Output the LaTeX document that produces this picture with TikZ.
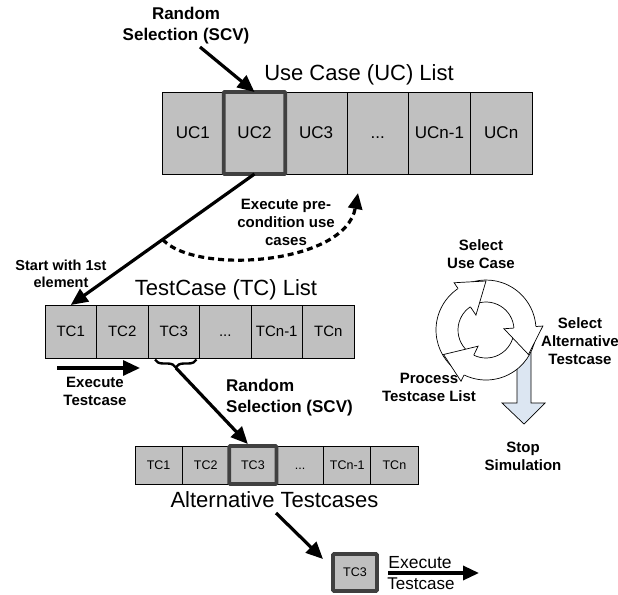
\documentclass[tikz,border=0pt]{standalone}
\usepackage{fontspec}
\setmainfont{Liberation Sans}
\usetikzlibrary{arrows.meta,decorations.pathreplacing,calc}
\definecolor{cellgray}{HTML}{C0C0C0}
\definecolor{selgray}{HTML}{404040}
\definecolor{stopblue}{HTML}{DCE6F2}
\begin{document}
\begin{tikzpicture}[x=1pt,y=-1pt,
  cell/.style={draw=black, line width=0.8pt, fill=cellgray, inner sep=0pt, outer sep=0pt},
  uccell/.style={cell, minimum width=61.67pt, minimum height=82pt, font=\fontsize{17}{20}\selectfont},
  tccell/.style={cell, minimum width=51.5pt, minimum height=53pt, font=\fontsize{15}{18}\selectfont},
  altcell/.style={cell, minimum width=47.17pt, minimum height=38pt, font=\fontsize{12.5}{15}\selectfont},
  selbox/.style={draw=selgray, line width=3.8pt, rounded corners=1pt},
  bigarrow/.style={line width=3.2pt, -{Triangle[length=17pt,width=15pt]}},
  lbl/.style={font=\fontsize{15}{18}\selectfont\bfseries, align=center, inner sep=0pt},
  rslbl/.style={font=\fontsize{17}{21}\selectfont\bfseries, inner sep=0pt},
  title/.style={font=\fontsize{22}{26}\selectfont, inner sep=0pt}
]
\useasboundingbox (0,0) rectangle (618,594);

% ---------- Use Case list ----------
\node[title] (uctitle) at (359,75) {Use Case (UC) List};
\node[uccell] (uc1) at (192.8,133) {UC1};
\node[uccell] (uc2) at (254.5,133) {UC2};
\node[uccell] (uc3) at (316.2,133) {UC3};
\node[uccell] (uc4) at (377.8,133) {\vphantom{UC}...};
\node[uccell] (uc5) at (439.5,133) {UCn-1};
\node[uccell] (uc6) at (501.2,133) {UCn};
\draw[selbox] (uc2.north west) rectangle (uc2.south east);

\node[rslbl, align=center] (rs1) at (186,26) {Random\\Selection (SCV)};
\coordinate (rs1tail) at (200,47);
\draw[bigarrow] (rs1tail) -- (uc2.north);

% ---------- TestCase list ----------
\node[title] (tctitle) at (226,290) {TestCase (TC) List};
\node[tccell] (tc1) at (70.75,331.5) {TC1};
\node[tccell] (tc2) at (122.25,331.5) {TC2};
\node[tccell] (tc3) at (173.75,331.5) {TC3};
\node[tccell] (tc4) at (225.25,331.5) {\vphantom{TC}...};
\node[tccell] (tc5) at (276.75,331.5) {TCn-1};
\node[tccell] (tc6) at (328.25,331.5) {TCn};

\draw[bigarrow] (uc2.south) -- (tc1.north);
\node[lbl, font=\fontsize{14.5}{17}\selectfont\bfseries] (startlbl) at (61,273.5) {Start with 1st\\element};

\coordinate (dstart) at ($(uc2.south)!0.5!(tc1.north)$);
\coordinate (dend) at (358,193);
\draw[line width=3.2pt, dash pattern=on 6pt off 4pt, -{Triangle[length=16pt,width=14pt]}]
  (dstart) .. controls (195,275) and (345,265) .. (dend);
\node[lbl] (prelbl) at (286,222) {Execute pre-\\condition use\\cases};

\coordinate (ex1a) at (57,368);
\coordinate (ex1b) at (140,368);
\draw[bigarrow] (ex1a) -- (ex1b);
\node[lbl] (ex1lbl) at (95,391) {Execute\\Testcase};

% brace under TC3
\draw[line width=2.4pt, decorate, decoration={brace, amplitude=8pt}]
  ($(tc3.south east)+(-3,1.5)$) -- ($(tc3.south west)+(7,1.5)$);
\coordinate (bracetip) at (176,368);

% ---------- Alternative Testcases ----------
\node[altcell] (alt1) at (158.6,465) {TC1};
\node[altcell] (alt2) at (205.75,465) {TC2};
\node[altcell] (alt3) at (252.9,465) {TC3};
\node[altcell] (alt4) at (300.1,465) {\vphantom{TC}...};
\node[altcell] (alt5) at (347.25,465) {TCn-1};
\node[altcell] (alt6) at (394.4,465) {TCn};
\draw[selbox] (alt3.north west) rectangle (alt3.south east);
\node[title] (alttitle) at (274.5,500) {Alternative Testcases};

\draw[bigarrow] (bracetip) -- ($(alt3.north)+(-5,-2)$);
\node[rslbl, align=left, anchor=west] (rs2) at (226,397.5) {Random\\Selection (SCV)};

% single TC3
\node[cell, minimum width=44pt, minimum height=37pt, font=\fontsize{12.5}{15}\selectfont] (single) at (355,572.5) {TC3};
\draw[selbox] (single.north west) rectangle (single.south east);
\coordinate (sgtail) at (276,513);
\coordinate (sgtip) at (323,559);
\draw[bigarrow] (sgtail) -- (sgtip);

\coordinate (ex2a) at (388,573);
\coordinate (ex2b) at (479,573);
\draw[line width=3.4pt, -{Triangle[length=16pt,width=14pt]}] (ex2a) -- (ex2b);
\node[font=\fontsize{17.5}{20}\selectfont, inner sep=0pt] (ex2top) at (420,563) {Execute};
\node[font=\fontsize{17}{20}\selectfont, inner sep=0pt] (ex2bot) at (421,584) {Testcase};

% ---------- Cycle ----------
\draw[line width=0.7pt, fill=stopblue]
  (517,352) -- (517,403) -- (502,403) -- (524,424) -- (545,403) -- (531,403) -- (531,352) -- cycle;

\begin{scope}[shift={(486,330)}, yscale=-1]
  \foreach \a/\b in {238/124, 118/4, -2/-116} {
    \fill[white] (\b:50) arc[start angle=\b, end angle=\a, radius=50] -- (\a:28)
       arc[start angle=\a, end angle=\b, radius=28] -- cycle;
    \draw[line width=0.7pt] (\b:50) arc[start angle=\b, end angle=\a, radius=50] -- (\a:28)
       arc[start angle=\a, end angle=\b, radius=28];
  }
  \foreach \b in {124, 4, -116} {
    \pgfmathsetmacro{\t}{\b-34}
    \fill[white] (\b:57) -- (\t:49) -- (\b:18) -- cycle;
    \fill[white] (\b:50) -- (\b:28) -- (\b-3:28) -- (\b-3:50) -- cycle;
    \draw[line width=0.7pt, line join=miter] (\b:50) -- (\b:57) -- (\t:49) -- (\b:18) -- (\b:28);
  }
\end{scope}

\node[lbl] (selUC) at (481,254.5) {Select\\Use Case};
\node[lbl] (selAlt) at (580,341.5) {Select\\Alternative\\Testcase};
\node[lbl] (procTC) at (429,387) {Process\\Testcase List};
\node[lbl] (stopSim) at (523,456) {Stop\\Simulation};
\end{tikzpicture}
\end{document}
